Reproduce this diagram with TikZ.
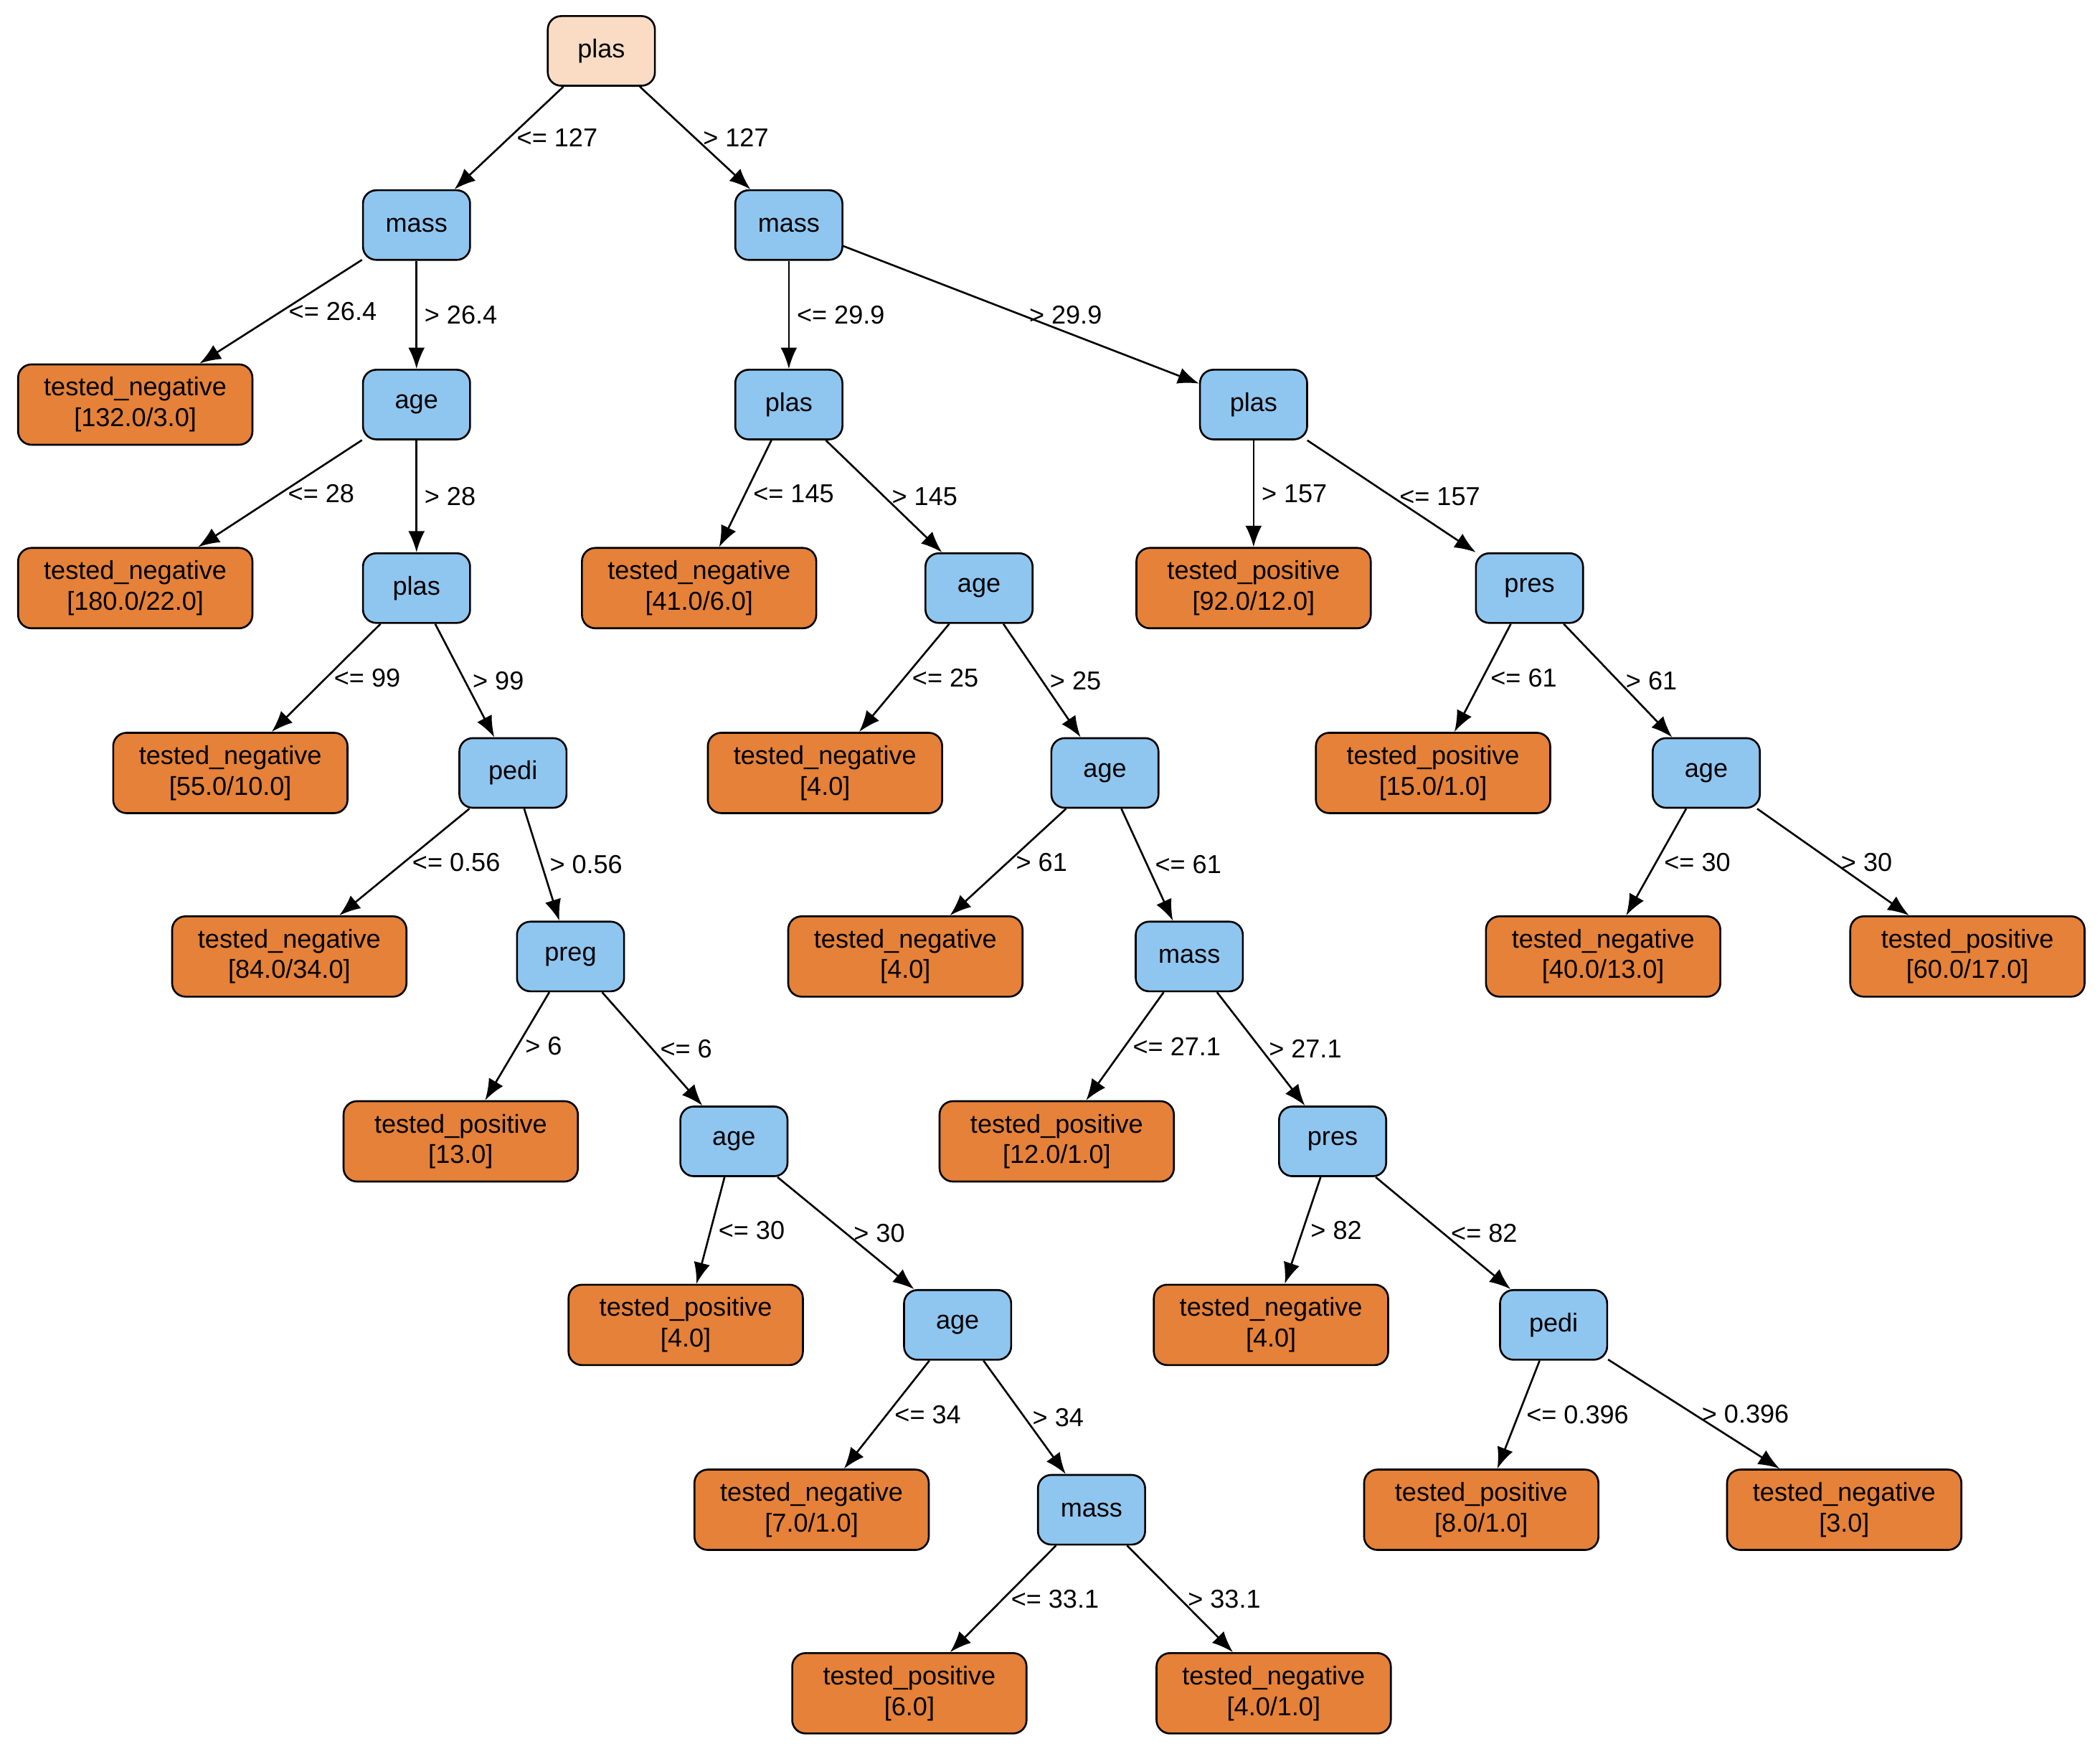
\documentclass[tikz,border=0pt]{standalone}
\usepackage{fontspec}
\setmainfont{Liberation Sans}
\usetikzlibrary{arrows.meta}
\definecolor{bl}{HTML}{8FC6F0}
\definecolor{org}{HTML}{E58139}
\definecolor{pch}{HTML}{FADCC5}
\begin{document}
\begin{tikzpicture}[x=0.02cm,y=-0.02cm,
  every node/.style={font=\fontsize{11}{13}\selectfont},
  int/.style={draw=black,fill=bl,rounded corners=0.2cm,minimum width=1.6cm,minimum height=1.04cm,inner sep=2pt,thick},
  root/.style={int,fill=pch},
  leaf/.style={draw=black,fill=org,rounded corners=0.2cm,minimum width=3.5cm,minimum height=1.2cm,align=center,inner sep=2pt,thick},
  e/.style={-{Latex[length=9pt,width=7pt]},thick},
  lb/.style={anchor=west,inner sep=1pt,xshift=2pt}]
\useasboundingbox (0,0) rectangle (1568,1309);
\node[root] (r) at (449,38) {plas};
\node[int] (m1) at (311,168) {mass};
\node[int] (m2) at (589,168) {mass};
\node[leaf] (l1) at (101,302) {tested\_negative\\{[132.0/3.0]}};
\node[int] (a1) at (311,302) {age};
\node[leaf] (l2) at (101,439) {tested\_negative\\{[180.0/22.0]}};
\node[int] (p2) at (311,439) {plas};
\node[leaf] (l3) at (172,577) {tested\_negative\\{[55.0/10.0]}};
\node[int] (pd1) at (383,577) {pedi};
\node[leaf] (l4) at (216,714) {tested\_negative\\{[84.0/34.0]}};
\node[int] (pg) at (426,714) {preg};
\node[leaf] (l5) at (344,852) {tested\_positive\\{[13.0]}};
\node[int] (a2) at (548,852) {age};
\node[leaf] (l6) at (512,989) {tested\_positive\\{[4.0]}};
\node[int] (a3) at (715,989) {age};
\node[leaf] (l7) at (606,1127) {tested\_negative\\{[7.0/1.0]}};
\node[int] (m3) at (815,1127) {mass};
\node[leaf] (l8) at (679,1264) {tested\_positive\\{[6.0]}};
\node[leaf] (l9) at (951,1264) {tested\_negative\\{[4.0/1.0]}};
\node[int] (p3) at (589,302) {plas};
\node[int] (p4) at (936,302) {plas};
\node[leaf] (l10) at (522,439) {tested\_negative\\{[41.0/6.0]}};
\node[int] (a4) at (731,439) {age};
\node[leaf] (l11) at (616,577) {tested\_negative\\{[4.0]}};
\node[int] (a5) at (825,577) {age};
\node[leaf] (l12) at (676,714) {tested\_negative\\{[4.0]}};
\node[int] (m4) at (888,714) {mass};
\node[leaf] (l13) at (789,852) {tested\_positive\\{[12.0/1.0]}};
\node[int] (ps1) at (995,852) {pres};
\node[leaf] (l14) at (949,989) {tested\_negative\\{[4.0]}};
\node[int] (pd2) at (1160,989) {pedi};
\node[leaf] (l15) at (1106,1127) {tested\_positive\\{[8.0/1.0]}};
\node[leaf] (l16) at (1377,1127) {tested\_negative\\{[3.0]}};
\node[leaf] (l17) at (936,439) {tested\_positive\\{[92.0/12.0]}};
\node[int] (ps2) at (1142,439) {pres};
\node[leaf] (l18) at (1070,577) {tested\_positive\\{[15.0/1.0]}};
\node[int] (a6) at (1274,577) {age};
\node[leaf] (l19) at (1197,714) {tested\_negative\\{[40.0/13.0]}};
\node[leaf] (l20) at (1469,714) {tested\_positive\\{[60.0/17.0]}};
\foreach \a/\b/\t in {r/m1/{<= 127},r/m2/{> 127},m1/l1/{<= 26.4},m1/a1/{> 26.4},a1/l2/{<= 28},a1/p2/{> 28},
 p2/l3/{<= 99},p2/pd1/{> 99},pd1/l4/{<= 0.56},pd1/pg/{> 0.56},pg/l5/{> 6},pg/a2/{<= 6},a2/l6/{<= 30},a2/a3/{> 30},
 a3/l7/{<= 34},a3/m3/{> 34},m3/l8/{<= 33.1},m3/l9/{> 33.1},m2/p3/{<= 29.9},m2/p4/{> 29.9},p3/l10/{<= 145},p3/a4/{> 145},
 a4/l11/{<= 25},a4/a5/{> 25},a5/l12/{> 61},a5/m4/{<= 61},m4/l13/{<= 27.1},m4/ps1/{> 27.1},ps1/l14/{> 82},ps1/pd2/{<= 82},
 pd2/l15/{<= 0.396},pd2/l16/{> 0.396},p4/l17/{> 157},p4/ps2/{<= 157},ps2/l18/{<= 61},ps2/a6/{> 61},a6/l19/{<= 30},a6/l20/{> 30}}
 \draw[e] (\a) -- node[lb]{\t} (\b);
\end{tikzpicture}
\end{document}
